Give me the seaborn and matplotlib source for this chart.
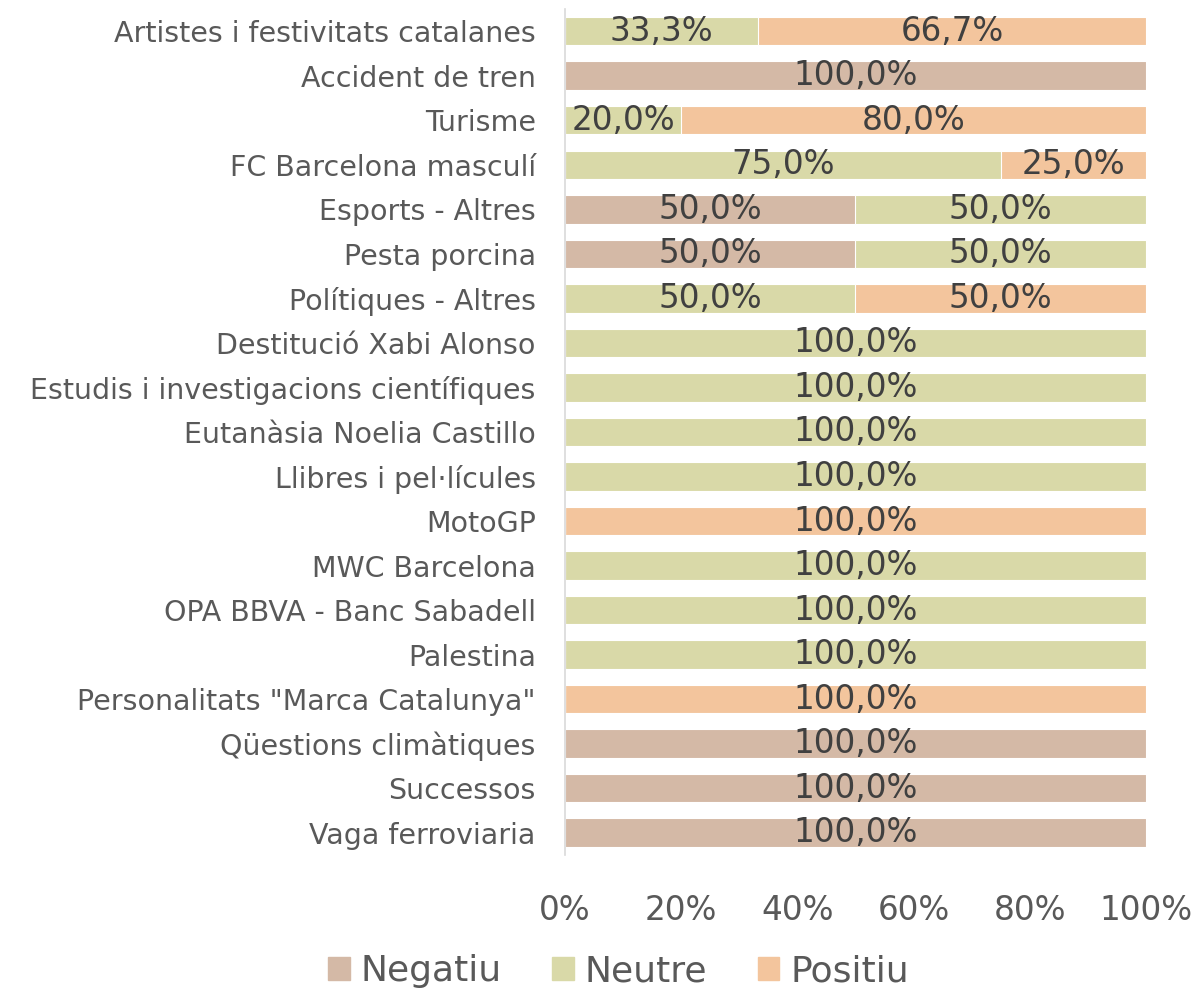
import matplotlib.pyplot as plt
import pandas as pd
import numpy as np
import seaborn as sns

# data (percentages per topic)
topics = ['Artistes i festivitats catalanes', 'Accident de tren', 'Turisme',
          'FC Barcelona masculí', 'Esports - Altres', 'Pesta porcina',
          'Polítiques - Altres', 'Destitució Xabi Alonso',
          'Estudis i investigacions científiques', 'Eutanàsia Noelia Castillo',
          'Llibres i pel·lícules', 'MotoGP', 'MWC Barcelona',
          'OPA BBVA - Banc Sabadell', 'Palestina',
          'Personalitats "Marca Catalunya"', 'Qüestions climàtiques',
          'Successos', 'Vaga ferroviaria']
negatiu = [0, 100, 0, 0, 50, 50, 0, 0, 0, 0, 0, 0, 0, 0, 0, 0, 100, 100, 100]
neutre = [33.3, 0, 20, 75, 50, 50, 50, 100, 100, 100, 100, 0, 100, 100, 100, 0, 0, 0, 0]
positiu = [66.7, 0, 80, 25, 0, 0, 50, 0, 0, 0, 0, 100, 0, 0, 0, 100, 0, 0, 0]
series = ['Negatiu', 'Neutre', 'Positiu']
colors = ['#D4B9A6', '#D9D9A8', '#F3C59D']

df = pd.DataFrame({'topic': topics, 'Negatiu': negatiu,
                   'Neutre': neutre, 'Positiu': positiu})
df['c_neg'] = df['Negatiu']
df['c_neu'] = df['Negatiu'] + df['Neutre']
df['c_pos'] = df['c_neu'] + df['Positiu']

sns.set_style('white')
plt.rcParams['font.family'] = ['DejaVu Sans']

fig = plt.figure(figsize=(11.96, 9.89), dpi=100)
ax = fig.add_axes([0.4724, 0.1355, 0.4858, 0.8555])

# stacked via layered cumulative bars
for col, c in zip(['c_pos', 'c_neu', 'c_neg'], colors[::-1]):
    sns.barplot(data=df, x=col, y='topic', orient='h', color=c, width=0.64,
                edgecolor='white', linewidth=0.8, ax=ax, saturation=1)

# value labels
for i, row in df.iterrows():
    start = 0
    for s in series:
        v = row[s]
        if v > 0:
            ax.text(start + v / 2, i, f'{v:.1f}%'.replace('.', ','),
                    ha='center', va='center', fontsize=23.5, color='#404040')
        start += v

ax.set_xlim(0, 100)
ax.set_ylim(len(topics) - 0.5, -0.5)
ax.set_xticks(np.arange(0, 101, 20))
ax.set_xticklabels([f'{t}%' for t in range(0, 101, 20)])
ax.set_xlabel('')
ax.set_ylabel('')
ax.tick_params(axis='x', length=0, pad=28, labelsize=23.5, labelcolor='#595959')
ax.tick_params(axis='y', length=0, pad=21, labelsize=20.5, labelcolor='#595959')
for sp in ['top', 'right', 'bottom']:
    ax.spines[sp].set_visible(False)
ax.spines['left'].set_color('#D9D9D9')
ax.spines['left'].set_linewidth(1.2)

handles = [plt.Rectangle((0, 0), 1, 1, color=c) for c in colors]
leg = fig.legend(handles, series, loc='center', bbox_to_anchor=(0.517, 0.018),
                 ncol=3, frameon=False, fontsize=26, handlelength=0.6,
                 handleheight=0.6, handletextpad=0.3, columnspacing=1.4)
for t in leg.get_texts():
    t.set_color('#595959')

fig.savefig('out.png', dpi=100)
